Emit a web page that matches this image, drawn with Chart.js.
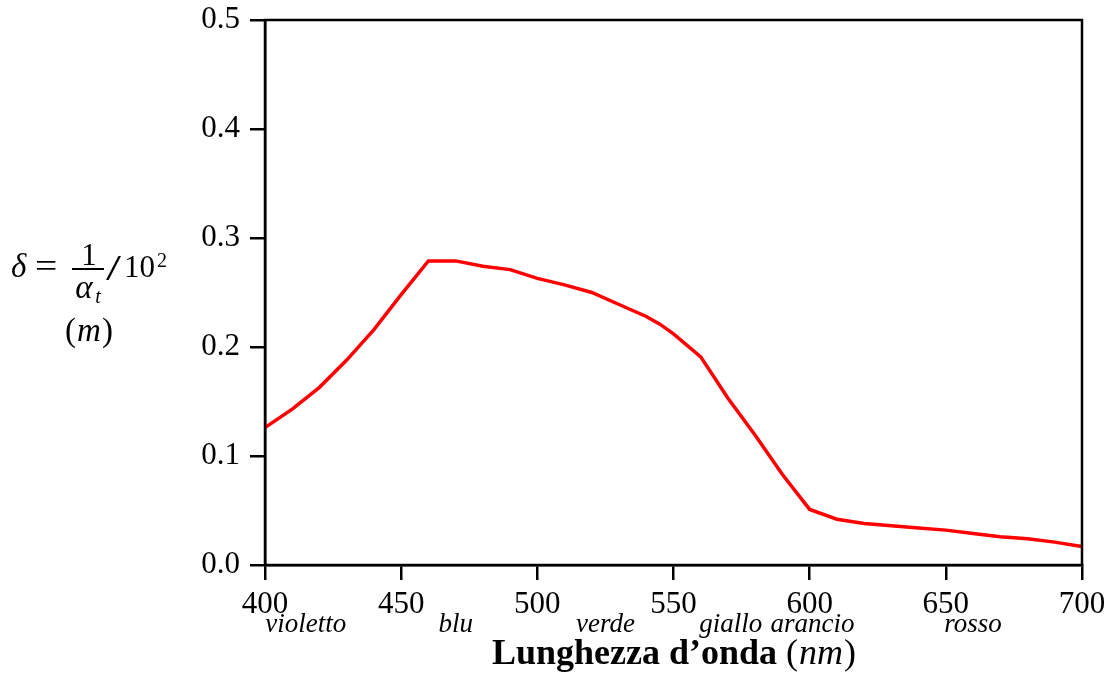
<!DOCTYPE html>
<html>
<head>
<meta charset="utf-8">
<script src="https://cdn.jsdelivr.net/npm/chart.js@4"></script>
<style>
  html, body { margin: 0; padding: 0; background: #fff; }
  #wrap { width: 1110px; height: 674px; }
</style>
</head>
<body>
<div id="wrap"><canvas id="chart" width="1110" height="674"></canvas></div>
<script>
"use strict";

// wavelength (nm) and penetration depth delta
var wavelengths = [400, 410, 420, 430, 440, 450, 460, 470, 480, 490, 500, 510, 520, 530, 540, 545, 550, 560, 570, 580, 590, 600, 610, 620, 630, 640, 650, 660, 670, 680, 690, 700];
var deltaValues = [0.126, 0.143, 0.163, 0.188, 0.216, 0.248, 0.279, 0.279, 0.274, 0.271, 0.263, 0.257, 0.250, 0.239, 0.228, 0.221, 0.212, 0.191, 0.153, 0.119, 0.083, 0.051, 0.042, 0.038, 0.036, 0.034, 0.032, 0.029, 0.026, 0.024, 0.021, 0.017];

// colour names under the x axis, and the wavelength they are centred on
var colourNames = ["violetto", "blu", "verde", "giallo", "arancio", "rosso"];
var colourCentres = [415, 470, 525, 571, 601, 660];

var xTitleBold = "Lunghezza d\u2019onda ";
var xTitleUnit = "nm";

var SERIF = "'Liberation Serif', 'DejaVu Serif', serif";

var points = [];
for (var i = 0; i < wavelengths.length; i++) {
  points.push({ x: wavelengths[i], y: deltaValues[i] });
}

// draw "(" + italic unit + ")" centred on cx
function unitText(ctx, unit, cx, yb, size) {
  ctx.font = size + "px " + SERIF;
  var wp = ctx.measureText("(").width;
  ctx.font = "italic " + size + "px " + SERIF;
  var wu = ctx.measureText(unit).width;
  var x0 = cx - (wp * 2 + wu) / 2;
  ctx.textAlign = "left";
  ctx.font = size + "px " + SERIF;
  ctx.fillText("(", x0, yb);
  ctx.font = "italic " + size + "px " + SERIF;
  ctx.fillText(unit, x0 + wp + 1, yb);
  ctx.font = size + "px " + SERIF;
  ctx.fillText(")", x0 + wp + wu + 2, yb);
}

var decorations = {
  id: "decorations",
  afterDraw: function (chart) {
    var ctx = chart.ctx;
    var area = chart.chartArea;
    var xs = chart.scales.x;
    ctx.save();

    // frame
    ctx.strokeStyle = "#000";
    ctx.lineWidth = 2.5;
    ctx.strokeRect(area.left, area.top, area.right - area.left, area.bottom - area.top);

    ctx.fillStyle = "#000";
    ctx.textBaseline = "alphabetic";

    // colour names
    ctx.font = "italic 27px " + SERIF;
    ctx.textAlign = "center";
    for (var i = 0; i < colourNames.length; i++) {
      ctx.fillText(colourNames[i], xs.getPixelForValue(colourCentres[i]), 632);
    }

    // x axis title: bold words + italic unit
    ctx.font = "bold 36px " + SERIF;
    var w1 = ctx.measureText(xTitleBold).width;
    ctx.font = "36px " + SERIF;
    var wp = ctx.measureText("(").width;
    ctx.font = "italic 36px " + SERIF;
    var wu = ctx.measureText(xTitleUnit).width;
    var total = w1 + wp * 2 + wu;
    var x0 = 673 - total / 2;
    var yb = 664;
    ctx.textAlign = "left";
    ctx.font = "bold 36px " + SERIF;
    ctx.fillText(xTitleBold, x0, yb);
    unitText(ctx, xTitleUnit, x0 + w1 + (wp * 2 + wu) / 2, yb, 36);

    // y axis label: delta = 1/alpha_t / 10^2  (m)
    ctx.textAlign = "left";
    ctx.font = "italic 33px " + SERIF;
    ctx.fillText("\u03b4", 11, 277);
    ctx.font = "33px " + SERIF;
    ctx.save();
    ctx.scale(1.2, 1);
    ctx.fillText("=", 35 / 1.2, 277);
    ctx.restore();
    ctx.textAlign = "center";
    ctx.font = "31px " + SERIF;
    ctx.fillText("1", 89, 265);
    ctx.fillRect(72, 268, 32, 2);
    ctx.font = "italic 33px " + SERIF;
    ctx.fillText("\u03b1", 84, 298);
    ctx.font = "italic 20px " + SERIF;
    ctx.fillText("t", 98, 303);
    ctx.textAlign = "left";
    ctx.font = "36px " + SERIF;
    ctx.save();
    ctx.scale(1.5, 1);
    ctx.fillText("/", 106 / 1.5, 280);
    ctx.restore();
    ctx.font = "31px " + SERIF;
    ctx.fillText("10", 124, 277);
    ctx.font = "20px " + SERIF;
    ctx.fillText("2", 157, 267);
    unitText(ctx, "m", 88, 341, 33);

    ctx.restore();
  },
};

var ctx = document.getElementById("chart").getContext("2d");
var chart = new Chart(ctx, {
  type: "line",
  data: {
    datasets: [
      {
        data: points,
        borderColor: "#ff0000",
        borderWidth: 3.5,
        pointRadius: 0,
        fill: false,
        tension: 0,
      },
    ],
  },
  options: {
    responsive: false,
    animation: false,
    layout: { padding: { top: 20, right: 28, left: 0, bottom: 0 } },
    plugins: { legend: { display: false }, tooltip: { enabled: false } },
    scales: {
      x: {
        type: "linear",
        min: 400,
        max: 700,
        afterFit: function (scale) {
          scale.height = 109;
          scale.paddingLeft = 0;
          scale.paddingRight = 0;
        },
        ticks: {
          stepSize: 50,
          color: "#000",
          padding: 6,
          maxRotation: 0,
          font: { family: SERIF, size: 31 },
        },
        grid: { drawOnChartArea: false, drawTicks: true, tickLength: 15, color: "#000", lineWidth: 2.5 },
        border: { display: true, color: "#000", width: 2.5 },
      },
      y: {
        type: "linear",
        min: 0,
        max: 0.5,
        afterFit: function (scale) {
          scale.width = 265;
          scale.paddingTop = 0;
          scale.paddingBottom = 0;
        },
        ticks: {
          stepSize: 0.1,
          color: "#000",
          padding: 10,
          font: { family: SERIF, size: 31 },
          callback: function (v) { return v.toFixed(1); },
        },
        grid: { drawOnChartArea: false, drawTicks: true, tickLength: 15, color: "#000", lineWidth: 2.5 },
        border: { display: true, color: "#000", width: 2.5 },
      },
    },
  },
  plugins: [decorations],
});
</script>
</body>
</html>
